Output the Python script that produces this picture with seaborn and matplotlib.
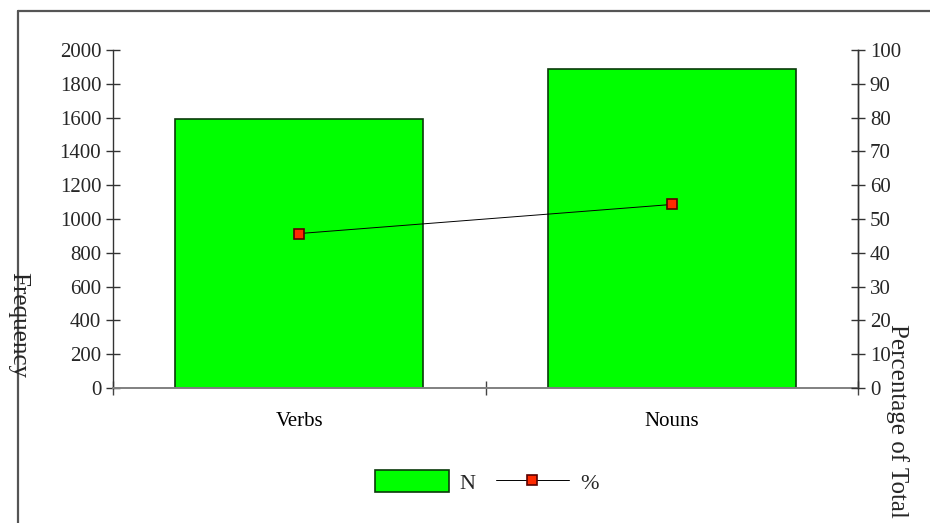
import matplotlib
matplotlib.use("Agg")
import matplotlib.pyplot as plt
from matplotlib.lines import Line2D
from matplotlib.patches import Patch
from matplotlib.ticker import FixedLocator, MultipleLocator
import seaborn as sns
import pandas as pd

# Word-class counts and share of total
categories = ["Verbs", "Nouns"]
counts = [1590, 1890]
percent = [45.7, 54.3]

df = pd.DataFrame({"cat": categories, "N": counts, "pct": percent})

sns.set_theme(style="white")
plt.rcParams["font.family"] = ["Liberation Serif", "DejaVu Serif"]
plt.rcParams["font.size"] = 15

fig = plt.figure(figsize=(9.30, 5.23), dpi=100)
ax = fig.add_axes([0.1215, 0.2581, 0.8011, 0.6463])

sns.barplot(data=df, x="cat", y="N", ax=ax, color="#00ff00", width=0.665,
            edgecolor="#0a3a0a", linewidth=1.2, saturation=1)
for p in ax.patches:
    p.set_facecolor("#00ff00")

ax.set_xlim(-0.5, 1.5)
ax.set_ylim(0, 2000)
ax.yaxis.set_major_locator(MultipleLocator(200))
ax.set_xlabel("")
ax.set_ylabel("")

ax.xaxis.set_minor_locator(FixedLocator([-0.5, 0.5, 1.5]))
ax.tick_params(axis="x", which="major", length=0, pad=17, labelsize=15,
               colors="black")
ax.tick_params(axis="x", which="minor", direction="inout", length=10,
               width=1.0, color="#444444", bottom=True)
ax.tick_params(axis="y", direction="inout", length=10, width=1.0,
               color="#333333", left=True, pad=3.5, labelsize=15)

ax.spines["top"].set_visible(False)
ax.spines["left"].set_color("#333333")
ax.spines["left"].set_linewidth(1.0)
ax.spines["bottom"].set_color("#808080")
ax.spines["bottom"].set_linewidth(1.4)
ax.spines["right"].set_color("#333333")
ax.spines["right"].set_linewidth(1.0)

ax2 = ax.twinx()
sns.pointplot(data=df, x="cat", y="pct", ax=ax2, color="black",
              markers="s", linestyles="-", errorbar=None,
              linewidth=0.7, markersize=7.5)
for ln in ax2.lines:
    ln.set_markerfacecolor("#ff2a00")
    ln.set_markeredgecolor("#5a0000")
    ln.set_markeredgewidth(1.2)
    ln.set_linewidth(0.7)
ax2.set_xlim(-0.5, 1.5)
ax2.set_ylim(0, 100)
ax2.yaxis.set_major_locator(MultipleLocator(10))
ax2.set_ylabel("")
ax2.set_xlabel("")
ax2.tick_params(axis="y", direction="inout", length=10, width=1.0,
                color="#333333", right=True, pad=3.5, labelsize=15)
for side in ["top", "left", "bottom"]:
    ax2.spines[side].set_visible(False)
ax2.spines["right"].set_color("#333333")
ax2.spines["right"].set_linewidth(1.0)

# Axis titles, written top to bottom
fig.text(18 / 930, 1 - 325 / 523, "Frequency", rotation=270,
         ha="center", va="center", fontsize=18)
fig.text(897 / 930, 1 - 421 / 523, "Percentage of Total", rotation=270,
         ha="center", va="center", fontsize=18)

# Outer frame
frame_kw = dict(color="#555555", linewidth=1.6, transform=fig.transFigure)
fig.add_artist(Line2D([18 / 930, 1.0], [1 - 11 / 523, 1 - 11 / 523], **frame_kw))
fig.add_artist(Line2D([18 / 930, 18 / 930], [1 - 11 / 523, 0.0], **frame_kw))

handles = [
    Patch(facecolor="#00ff00", edgecolor="#0a3a0a", linewidth=1.2, label="N"),
    Line2D([], [], color="black", linewidth=0.7, marker="s", markersize=7.5,
           markerfacecolor="#ff2a00", markeredgecolor="#5a0000",
           markeredgewidth=1.2, label="%"),
]
fig.legend(handles=handles, loc="center", ncol=2,
           bbox_to_anchor=(487 / 930, 1 - 482 / 523), frameon=False,
           handlelength=3.3, handleheight=1.1, handletextpad=0.5,
           columnspacing=0.9, fontsize=16)

fig.savefig("out.png", dpi=100)
